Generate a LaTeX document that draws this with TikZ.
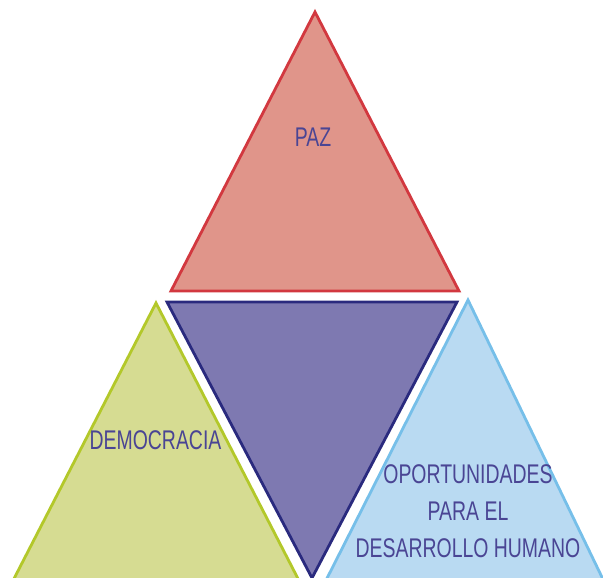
\documentclass[tikz,border=0pt]{standalone}
\usepackage{fontspec}
\newfontfamily\condfont[FakeStretch=0.72]{Liberation Sans}
\definecolor{redfill}{HTML}{E0958A}
\definecolor{redline}{HTML}{D2383F}
\definecolor{purfill}{HTML}{7E79B1}
\definecolor{purline}{HTML}{2A2A7E}
\definecolor{grnfill}{HTML}{D6DC92}
\definecolor{grnline}{HTML}{B3C82A}
\definecolor{blufill}{HTML}{B9DAF2}
\definecolor{bluline}{HTML}{76BFE9}
\definecolor{txtcol}{HTML}{4A4594}
\tikzset{
  tri/.style={line width=2.8pt, line join=miter},
  lbl/.style={text=txtcol, font=\condfont\fontsize{27}{37}\selectfont, align=center, inner sep=0pt}
}
\begin{document}
\begin{tikzpicture}[x=1pt,y=-1pt]
\useasboundingbox (0,0) rectangle (603,578);
\clip (0,0) rectangle (603,578);
% top triangle
\draw[tri, fill=redfill, draw=redline] (315,12) -- (459,291) -- (171,291) -- cycle;
% middle inverted triangle
\draw[tri, fill=purfill, draw=purline] (167,302) -- (457,302) -- (312,578) -- cycle;
% left triangle
\draw[tri, fill=grnfill, draw=grnline] (156,303) -- (309,600) -- (3,600) -- cycle;
% right triangle
\draw[tri, fill=blufill, draw=bluline] (468,300) -- (613,600) -- (316,600) -- cycle;
\node[lbl] (paz) at (313,137) {PAZ};
\node[lbl] (dem) at (155.5,440) {DEMOCRACIA};
\node[lbl] (opo) at (468,511) {OPORTUNIDADES\\PARA EL\\DESARROLLO HUMANO};
\end{tikzpicture}
\end{document}
